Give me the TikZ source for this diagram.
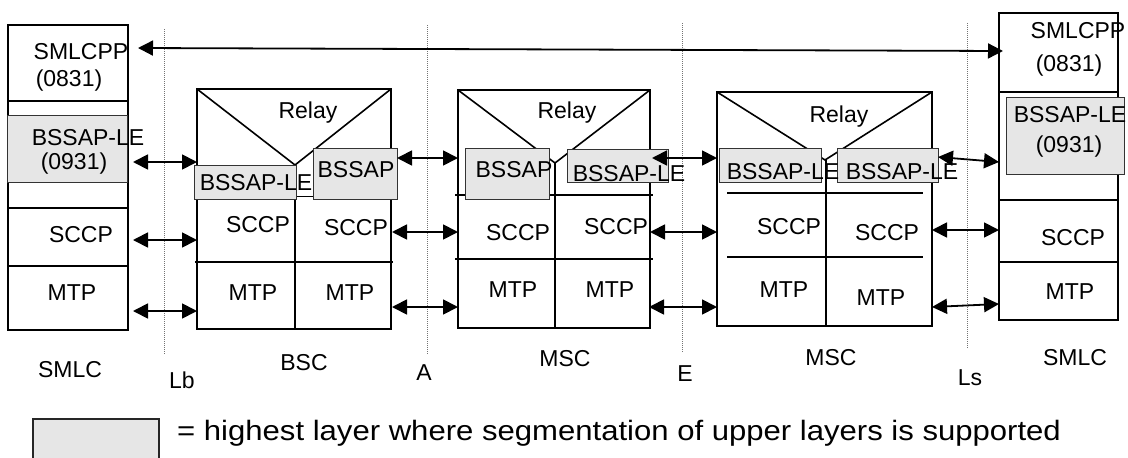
\documentclass[tikz,border=0pt]{standalone}
\usepackage{fontspec}
\setmainfont{Liberation Sans}
\usetikzlibrary{arrows.meta}
\definecolor{segfill}{HTML}{E6E6E6}
\begin{document}
\begin{tikzpicture}[x=1pt,y=-1pt,
  stack/.style={line width=1.6pt},
  seg/.style={draw=black!80,line width=0.8pt,fill=segfill},
  lbl/.style={inner sep=0pt,font=\fontsize{23}{26}\selectfont},
  iface/.style={draw=black!55,line width=0.7pt,dash pattern=on 1pt off 1pt},
  link/.style={line width=1.8pt,{Triangle[length=15pt,width=15pt]}-{Triangle[length=15pt,width=15pt]}},
  ]
\useasboundingbox (0,0) rectangle (1128,458);

% interface dotted lines
\draw[iface] (164,29) -- (164,355);
\draw[iface] (427,25) -- (427,354);
\draw[iface] (682,23) -- (682,352);
\draw[iface] (967,23) -- (967,348);

% ---------- left SMLC ----------
\draw[stack] (8,25) rectangle (128,330);
\draw[stack] (8,101) -- (128,101);
\draw[stack] (8,208) -- (128,208);
\draw[stack] (8,266) -- (128,266);
\draw[seg] (7,115) rectangle (127,182);
\node[lbl] (l-pp)  at (81,52)  {SMLCPP};
\node[lbl] (l-pp2) at (69,81)  {(0831)};
\node[lbl] (l-le)  at (88,138) {BSSAP-LE};
\node[lbl] (l-le2) at (74,164) {(0931)};
\node[lbl] (l-sccp) at (81,235) {SCCP};
\node[lbl] (l-mtp) at (72,293) {MTP};

% ---------- BSC ----------
\draw[stack] (197,89) rectangle (391,329);
\draw[stack] (197,89) -- (295,165) -- (391,89);
\draw[stack] (295,165) -- (295,329);
\draw[stack] (195,262) -- (393,262);
\draw[line width=1pt] (296,196) -- (313,196);
\draw[seg] (194,165) rectangle (296,199);
\draw[seg] (313,148) rectangle (397,199);
\node[lbl] (b-relay) at (308,113) {Relay};
\node[lbl] (b-le)   at (256,183) {BSSAP-LE};
\node[lbl] (b-bssap) at (356,170) {BSSAP};
\node[lbl] (b-sccp1) at (258,225) {SCCP};
\node[lbl] (b-sccp2) at (356,228) {SCCP};
\node[lbl] (b-mtp1) at (253,293) {MTP};
\node[lbl] (b-mtp2) at (350,293) {MTP};

% ---------- MSC 1 ----------
\draw[stack] (458,90) rectangle (650,328);
\draw[stack] (458,90) -- (555,163) -- (650,90);
\draw[stack] (555,163) -- (555,328);
\draw[stack] (455,195) -- (653,195);
\draw[stack] (455,259) -- (653,259);
\draw[seg] (465,148) rectangle (549,199);
\draw[seg] (567,149) rectangle (668,182);
\node[lbl] (m-relay) at (567,113) {Relay};
\node[lbl] (m-bssap) at (514,170) {BSSAP};
\node[lbl] (m-le)   at (629,174) {BSSAP-LE};
\node[lbl] (m-sccp1) at (518,233) {SCCP};
\node[lbl] (m-sccp2) at (616,227) {SCCP};
\node[lbl] (m-mtp1) at (513,290) {MTP};
\node[lbl] (m-mtp2) at (610,290) {MTP};

% ---------- MSC 2 ----------
\draw[stack] (717,92) rectangle (932,326);
\draw[stack] (717,92) -- (825,160) -- (932,92);
\draw[stack] (826,160) -- (826,326);
\draw[stack] (727,193) -- (923,193);
\draw[stack] (727,257) -- (923,257);
\draw[seg] (719,148) rectangle (821,182);
\draw[seg] (837,148) rectangle (938,182);
\node[lbl] (n-relay) at (839,117) {Relay};
\node[lbl] (n-le1)  at (783,172) {BSSAP-LE};
\node[lbl] (n-le2)  at (902,172) {BSSAP-LE};
\node[lbl] (n-sccp1) at (789,227) {SCCP};
\node[lbl] (n-sccp2) at (887,233) {SCCP};
\node[lbl] (n-mtp1) at (784,290) {MTP};
\node[lbl] (n-mtp2) at (881,298) {MTP};

% ---------- right SMLC ----------
\draw[stack] (999,13) rectangle (1118,320);
\draw[stack] (999,92) -- (1118,92);
\draw[stack] (999,200) -- (1118,200);
\draw[stack] (999,262) -- (1118,262);
\draw[seg] (1006,97) rectangle (1124,174);
\node[lbl] (r-pp)  at (1078,31)  {SMLCPP};
\node[lbl] (r-pp2) at (1069,66)  {(0831)};
\node[lbl] (r-le)  at (1070,115) {BSSAP-LE};
\node[lbl] (r-le2) at (1069,147) {(0931)};
\node[lbl] (r-sccp) at (1073,238) {SCCP};
\node[lbl] (r-mtp) at (1070,292) {MTP};

% ---------- arrow end points ----------
\coordinate (t1) at (138,48);   \coordinate (t2) at (1003,51);
\coordinate (p1a) at (133,162); \coordinate (p1b) at (197,162);
\coordinate (p2a) at (133,240); \coordinate (p2b) at (197,240);
\coordinate (p3a) at (133,311); \coordinate (p3b) at (197,311);
\coordinate (q1a) at (397,158); \coordinate (q1b) at (458,158);
\coordinate (q2a) at (392,232); \coordinate (q2b) at (458,232);
\coordinate (q3a) at (392,307); \coordinate (q3b) at (458,307);
\coordinate (s1a) at (652,158); \coordinate (s1b) at (717,158);
\coordinate (s2a) at (650,232); \coordinate (s2b) at (717,232);
\coordinate (s3a) at (649,307); \coordinate (s3b) at (717,307);
\coordinate (u1a) at (938,157); \coordinate (u1b) at (999,162);
\coordinate (u2a) at (932,230); \coordinate (u2b) at (999,230);
\coordinate (u3a) at (932,307); \coordinate (u3b) at (999,304);

\draw[link] (t1) -- (t2);
\foreach \k in {p,q,s,u}{
  \foreach \i in {1,2,3}{
    \draw[link] (\k\i a) -- (\k\i b);
  }
}

% ---------- bottom labels ----------
\node[lbl] (lab-smlc1) at (70,370)  {SMLC};
\node[lbl] (lab-lb)   at (182,380) {Lb};
\node[lbl] (lab-bsc)  at (304,363) {BSC};
\node[lbl] (lab-a)    at (424,373) {A};
\node[lbl] (lab-msc1) at (565,359) {MSC};
\node[lbl] (lab-e)    at (685,374) {E};
\node[lbl] (lab-msc2) at (831,358) {MSC};
\node[lbl] (lab-ls)   at (970,378) {Ls};
\node[lbl] (lab-smlc2) at (1075,358) {SMLC};

% ---------- legend ----------
\draw[seg,draw=black!85,line width=1.6pt] (33,419) rectangle (159,472);
\node[inner sep=0pt,anchor=west,font=\fontsize{28}{32}\selectfont] (legend) at (177,433)
  {\scalebox{1.11}[1]{= highest layer where segmentation of upper layers is supported}};
\end{tikzpicture}
\end{document}
